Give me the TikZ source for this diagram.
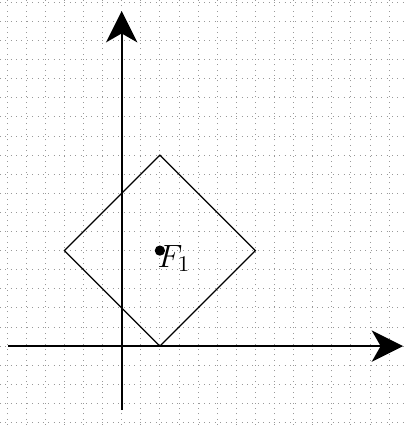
\documentclass[tikz,border=0pt]{standalone}
\usetikzlibrary{arrows.meta}
\colorlet{gridgray}{black!40}
\colorlet{ink}{black}

\begin{document}
\begin{tikzpicture}[x=0.3cm,y=0.3cm,
    axisline/.style={ink, line width=0.8pt, -{Stealth[length=14pt,width=14pt,inset=4pt]}},
    diamondline/.style={ink, line width=0.5pt}]
  \useasboundingbox (-6.37,-4.13) rectangle (14.94,18.12);
  \draw[gridgray, dotted, line width=0.4pt, step={(1,1)}] (-6.37,-4.13) grid (14.94,18.12);
  % axes
  \coordinate (xstart) at (-5.95,0);
  \coordinate (xend) at (14.73,0);
  \coordinate (ystart) at (0,-3.35);
  \coordinate (yend) at (0,17.54);
  \draw[axisline] (xstart) -- (xend);
  \draw[axisline] (ystart) -- (yend);
  % the diamond round F_1
  \coordinate (bottom) at (2,0);
  \coordinate (right) at (7,5);
  \coordinate (top) at (2,10);
  \coordinate (left) at (-3,5);
  \draw[diamondline] (bottom) -- (right) -- (top) -- (left) -- cycle;
  \coordinate (focus) at (2,5);
  \fill[ink] (focus) circle (2.3pt);
  \node[anchor=west, inner sep=0pt, xshift=-1.2pt, yshift=-3.5pt, font=\Large] (flabel) at (focus) {$F_1$};
\end{tikzpicture}
\end{document}
